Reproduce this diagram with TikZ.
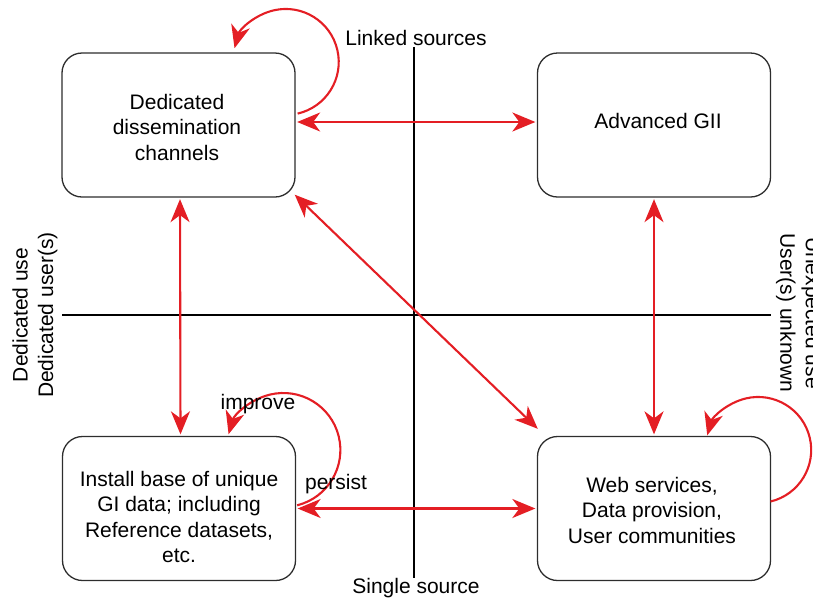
\documentclass[tikz,border=0pt]{standalone}
\usepackage{fontspec}
\setmainfont{Liberation Sans}
\usetikzlibrary{arrows.meta}
\definecolor{ared}{RGB}{228,30,36}
\definecolor{boxline}{RGB}{45,45,45}
\begin{document}
\begin{tikzpicture}[x=1pt,y=-1pt,
  txt/.style={font=\fontsize{21}{25.5}\selectfont, align=center, inner sep=0pt},
  qbox/.style={draw=boxline, line width=1.3pt, rounded corners=20pt, minimum width=233pt, minimum height=144pt, inner sep=0pt},
  axis/.style={line width=2.4pt, black},
  rarr/.style={draw=ared, line width=2.1pt, -{Stealth[length=23pt,width=19pt,inset=7pt]}},
  rdbl/.style={draw=ared, line width=2.1pt, {Stealth[length=23pt,width=19pt,inset=7pt]}-{Stealth[length=23pt,width=19pt,inset=7pt]}, shorten <=1.5pt, shorten >=1.5pt}
]
\clip (0,0) rectangle (813,598);
\useasboundingbox (0,0) rectangle (813,598);

% axes labels
\node[txt] (ls) at (416,38) {Linked sources};
\node[txt] (ss) at (416,588) {Single source};
\node[txt, rotate=90] (lft) at (35,315) {Dedicated use\\Dedicated user(s)};
\node[txt, rotate=-90] (rgt) at (798.5,313) {Unexpected use\\User(s) unknown};

% axes
\coordinate (hl) at (62,315);
\coordinate (hr) at (771,315);
\draw[axis] (ls.south) ++(-2,1) coordinate (vt) -- (vt |- ss.north);
\draw[axis] (hl) -- (hr);

% boxes
\node[qbox] (tl) at (178.5,125) {};
\node[qbox] (tr) at (654,125) {};
\node[qbox] (bl) at (179,508.5) {};
\node[qbox] (br) at (654,508.5) {};

% box texts
\node[txt] (tlt) at (177,127) {Dedicated\\dissemination\\channels};
\node[txt] (trt) at (658,121) {Advanced GII};
\node[txt] (blt) at (179,517) {Install base of unique\\GI data; including\\Reference datasets,\\etc.};
\node[txt] (brt) at (652,510) {Web services,\\Data provision,\\User communities};

% connectors
\draw[rdbl] ([yshift=3pt]tl.east) -- ([yshift=3pt]tr.west);
\draw[rdbl] ([xshift=1.5pt]tl.south) -- ([xshift=1.5pt]bl.north);
\draw[rdbl] (tr.south) -- (tr.south |- br.north);
\draw[rdbl] (bl.east) -- (br.west);
\draw[rdbl] ([shift={(-2,-4)}]tl.south east) -- ([shift={(2,-6)}]br.north west);

% self loops
\draw[rarr] ([shift={(2,-11.4)}]tl.east) arc[start angle=77, end angle=-165, radius=53];
\draw[rarr] ([shift={(1,-3.2)}]bl.east) arc[start angle=76, end angle=-164, radius=57];
\draw[rarr] ([shift={(-0.6,-7)}]br.east) arc[start angle=76.5, end angle=-164, radius=53];

% loop labels
\node[txt] (imp) at (258,404) {improve};
\node[txt] (per) at (336,484) {persist};
\end{tikzpicture}
\end{document}
